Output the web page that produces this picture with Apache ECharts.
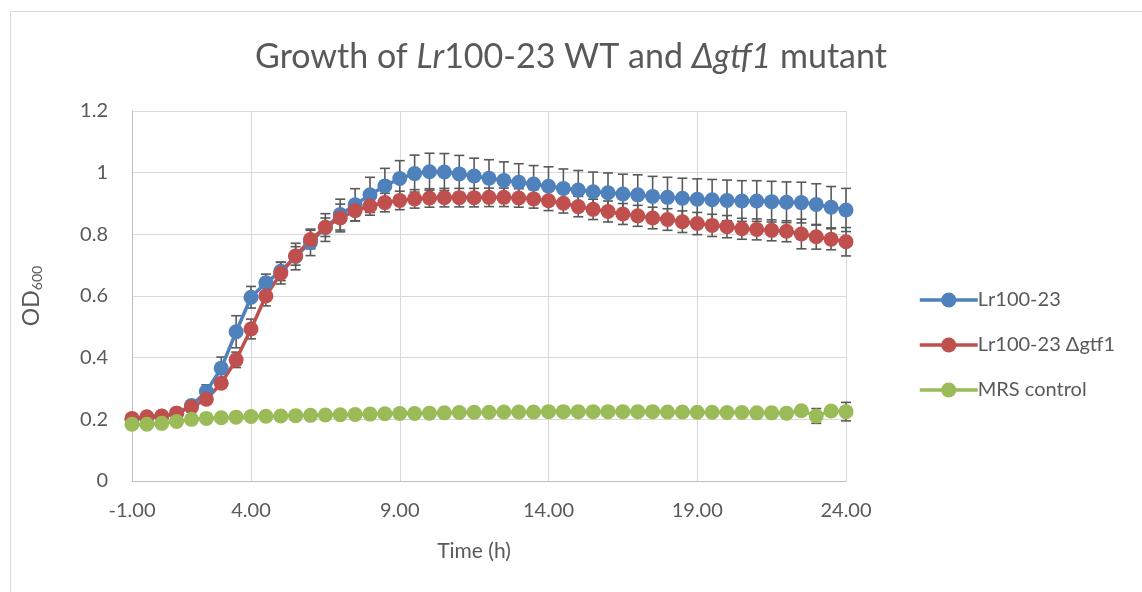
<!DOCTYPE html>
<html>
<head>
<meta charset="utf-8">
<script src="https://cdn.jsdelivr.net/npm/echarts@6/dist/echarts.min.js"></script>
<style>
  html, body { margin: 0; padding: 0; background: #fff; }
  #chart { width: 1142px; height: 592px; }
</style>
</head>
<body>
<div id="chart"></div>
<script>
// time points (h), one every 30 min
const timeH = [0, 0.5, 1, 1.5, 2, 2.5, 3, 3.5, 4, 4.5, 5, 5.5, 6, 6.5, 7, 7.5, 8, 8.5, 9, 9.5,
  10, 10.5, 11, 11.5, 12, 12.5, 13, 13.5, 14, 14.5, 15, 15.5, 16, 16.5, 17, 17.5, 18, 18.5, 19, 19.5,
  20, 20.5, 21, 21.5, 22, 22.5, 23, 23.5, 24]

// Lr100-23 (WT)
const wtOD = [0.200, 0.205, 0.210, 0.220, 0.245, 0.290, 0.366, 0.484, 0.596, 0.643,
  0.680, 0.728, 0.774, 0.822, 0.864, 0.896, 0.928, 0.957, 0.981, 0.997,
  1.003, 1.002, 0.996, 0.989, 0.982, 0.975, 0.969, 0.963, 0.956, 0.949,
  0.944, 0.938, 0.935, 0.931, 0.928, 0.923, 0.920, 0.917, 0.914, 0.912,
  0.910, 0.908, 0.908, 0.906, 0.904, 0.903, 0.897, 0.888, 0.879]
const wtErr = [0.010, 0.010, 0.010, 0.010, 0.015, 0.022, 0.036, 0.052, 0.035, 0.028,
  0.030, 0.043, 0.043, 0.045, 0.050, 0.052, 0.057, 0.057, 0.058, 0.060,
  0.060, 0.060, 0.060, 0.058, 0.060, 0.060, 0.060, 0.060, 0.063, 0.063,
  0.063, 0.064, 0.064, 0.064, 0.065, 0.065, 0.065, 0.065, 0.066, 0.066,
  0.066, 0.066, 0.066, 0.066, 0.066, 0.066, 0.067, 0.067, 0.070]

// Lr100-23 Δgtf1
const mutOD = [0.203, 0.208, 0.211, 0.220, 0.240, 0.265, 0.317, 0.393, 0.493, 0.600,
  0.674, 0.730, 0.783, 0.823, 0.853, 0.877, 0.892, 0.903, 0.910, 0.915,
  0.918, 0.919, 0.919, 0.919, 0.920, 0.920, 0.918, 0.915, 0.909, 0.901,
  0.890, 0.881, 0.874, 0.866, 0.860, 0.853, 0.848, 0.841, 0.835, 0.829,
  0.825, 0.818, 0.816, 0.813, 0.810, 0.801, 0.792, 0.784, 0.776]
const mutErr = [0.008, 0.008, 0.008, 0.008, 0.010, 0.012, 0.015, 0.025, 0.032, 0.032,
  0.035, 0.030, 0.030, 0.030, 0.045, 0.034, 0.030, 0.030, 0.030, 0.030,
  0.030, 0.030, 0.030, 0.030, 0.030, 0.030, 0.030, 0.030, 0.032, 0.032,
  0.033, 0.033, 0.034, 0.034, 0.034, 0.035, 0.035, 0.035, 0.036, 0.036,
  0.036, 0.034, 0.034, 0.034, 0.034, 0.048, 0.040, 0.034, 0.046]

// MRS control
const mrsOD = [0.184, 0.184, 0.187, 0.193, 0.200, 0.203, 0.205, 0.207, 0.209, 0.210,
  0.211, 0.212, 0.213, 0.214, 0.215, 0.216, 0.217, 0.218, 0.219, 0.219,
  0.220, 0.221, 0.222, 0.223, 0.223, 0.224, 0.224, 0.224, 0.225, 0.225,
  0.225, 0.225, 0.225, 0.225, 0.225, 0.225, 0.224, 0.224, 0.223, 0.223,
  0.222, 0.222, 0.221, 0.221, 0.220, 0.228, 0.211, 0.227, 0.225]
const mrsErr = [0.006, 0.006, 0.006, 0.006, 0.006, 0.006, 0.006, 0.006, 0.006, 0.006,
  0.006, 0.006, 0.006, 0.006, 0.006, 0.006, 0.006, 0.006, 0.006, 0.006,
  0.006, 0.006, 0.006, 0.006, 0.006, 0.006, 0.006, 0.006, 0.006, 0.006,
  0.006, 0.006, 0.006, 0.006, 0.006, 0.006, 0.006, 0.006, 0.006, 0.006,
  0.006, 0.006, 0.006, 0.008, 0.008, 0.010, 0.024, 0.010, 0.030]

// x axis ticks as printed on the original (first one reads -1.00)
const xTickValues = [0, 4, 9, 14, 19, 24]
const xTickLabels = ['-1.00', '4.00', '9.00', '14.00', '19.00', '24.00']

const seriesNames = ['Lr100-23', 'Lr100-23 Δgtf1', 'MRS control']
const seriesColors = ['#4f81bd', '#c0504d', '#9bbb59']

const FONT = 'Lato'
const TEXT = '#595959'

const chart = echarts.init(document.getElementById('chart'))

const toPoints = (ys) => timeH.map((t, i) => [t, ys[i]])
const toBars = (ys, es) => timeH.map((t, i) => [t, ys[i] - es[i], ys[i] + es[i]])

// 误差线
const renderErrorBar = (params, api) => {
  const x = api.value(0)
  const lo = api.coord([x, api.value(1)])
  const hi = api.coord([x, api.value(2)])
  const half = 5
  const style = { stroke: '#595959', lineWidth: 1.6 }
  return {
    type: 'group',
    children: [
      { type: 'line', shape: { x1: hi[0], y1: hi[1], x2: lo[0], y2: lo[1] }, style },
      { type: 'line', shape: { x1: hi[0] - half, y1: hi[1], x2: hi[0] + half, y2: hi[1] }, style },
      { type: 'line', shape: { x1: lo[0] - half, y1: lo[1], x2: lo[0] + half, y2: lo[1] }, style }
    ]
  }
}

const lineSeries = (idx, ys) => ({
  name: seriesNames[idx],
  type: 'line',
  data: toPoints(ys),
  symbol: 'circle',
  symbolSize: 15,
  showAllSymbol: true,
  color: seriesColors[idx],
  lineStyle: { width: 3.5, color: seriesColors[idx] },
  itemStyle: { color: seriesColors[idx] },
  emphasis: { disabled: true },
  z: 3
})

const errSeries = (ys, es) => ({
  type: 'custom',
  data: toBars(ys, es),
  renderItem: renderErrorBar,
  encode: { x: 0, y: [1, 2] },
  silent: true,
  z: 3
})

const options = {
  backgroundColor: '#fff',
  animation: false,
  title: {
    text: '{n|Growth of }{i|Lr}{n|100-23 WT and }{i|Δgtf1}{n| mutant}',
    left: 'center',
    top: 35,
    textStyle: {
      rich: {
        n: { fontFamily: FONT, fontSize: 34, fontWeight: 'normal', color: TEXT },
        i: { fontFamily: FONT, fontSize: 34, fontWeight: 'normal', color: TEXT, fontStyle: 'italic' }
      }
    }
  },
  legend: {
    data: seriesNames,
    orient: 'vertical',
    left: 913,
    top: 285,
    itemWidth: 58,
    itemHeight: 19,
    itemGap: 25,
    lineStyle: { width: 3.5 },
    textStyle: { fontFamily: FONT, fontSize: 20, color: TEXT, padding: [0, 0, 0, -5] }
  },
  grid: { left: 132, right: 296, top: 111, bottom: 111 },
  xAxis: {
    type: 'value',
    min: 0,
    max: 24,
    name: 'Time (h)',
    nameLocation: 'middle',
    nameGap: 60,
    nameTextStyle: { fontFamily: FONT, fontSize: 21, color: TEXT, padding: [0, 30, 0, 0] },
    axisLine: { show: true, lineStyle: { color: '#bfbfbf', width: 1 } },
    axisTick: { show: false, customValues: xTickValues },
    axisLabel: {
      customValues: xTickValues,
      formatter: (v) => xTickLabels[xTickValues.indexOf(v)],
      fontFamily: FONT,
      fontSize: 20,
      color: TEXT,
      margin: 20
    },
    splitLine: { show: true, lineStyle: { color: '#d9d9d9', width: 1 } }
  },
  yAxis: {
    type: 'value',
    min: 0,
    max: 1.2,
    interval: 0.2,
    name: '{a|OD}{s|600}',
    nameLocation: 'middle',
    nameRotate: 90,
    nameGap: 88,
    nameTextStyle: {
      rich: {
        a: { fontFamily: FONT, fontSize: 23, color: TEXT },
        s: { fontFamily: FONT, fontSize: 14, color: TEXT, verticalAlign: 'bottom', padding: [10, 0, 0, 0] }
      }
    },
    axisLine: { show: true, lineStyle: { color: '#bfbfbf', width: 1 } },
    axisTick: { show: false },
    axisLabel: { fontFamily: FONT, fontSize: 20, color: TEXT, margin: 24 },
    splitLine: { show: true, lineStyle: { color: '#d9d9d9', width: 1 } }
  },
  graphic: [
    {
      type: 'rect',
      shape: { x: 10.5, y: 11.5, width: 1200, height: 700 },
      style: { fill: 'none', stroke: '#d9d9d9', lineWidth: 1 },
      silent: true
    }
  ],
  series: [
    errSeries(wtOD, wtErr),
    lineSeries(0, wtOD),
    errSeries(mutOD, mutErr),
    lineSeries(1, mutOD),
    errSeries(mrsOD, mrsErr),
    lineSeries(2, mrsOD)
  ]
}

chart.setOption(options)
window.addEventListener('resize', () => {
  chart.resize()
})
</script>
</body>
</html>
